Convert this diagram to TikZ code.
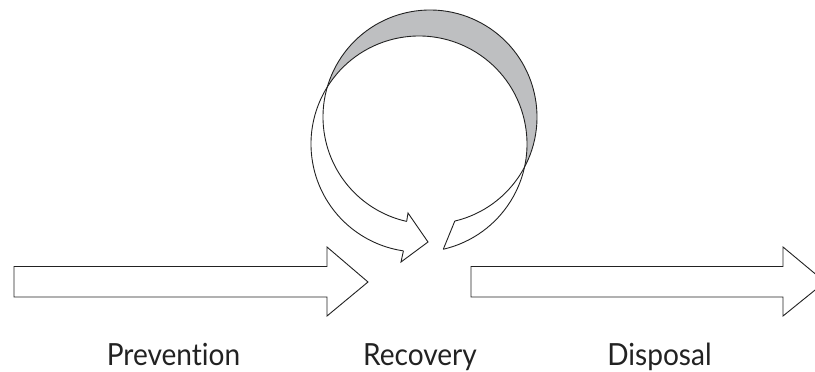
\documentclass[tikz,border=0pt]{standalone}
\usepackage{fontspec}
\setmainfont{Lato}[Ligatures=NoCommon]
\definecolor{crescent}{HTML}{BEBFC1}
\definecolor{ink}{HTML}{222222}
\tikzset{
  outline/.style={draw=ink, line width=0.9pt, line join=miter},
  label/.style={font=\fontsize{30.5}{33}\selectfont, text=ink, anchor=base, inner sep=0pt},
}
\newcommand{\narrow}[1]{\scalebox{0.92}[1]{#1}}
\begin{document}
\begin{tikzpicture}[x=1pt,y=1pt]
\useasboundingbox (0,0) rectangle (815,-372);
\clip (0,0) rectangle (815,-372);
% circle centres
\coordinate (cA) at (419,-144);
\coordinate (cB) at (430,-117);
\path (cA) ++(-77:108) coordinate (Atail);
\path (cA) ++(261.7:108) coordinate (Ahead);
\path (cB) ++(-76.6:107) coordinate (Btail);
\path (cB) ++(257.4:107) coordinate (Bhead);
\coordinate (barbU) at (408,-213);
\coordinate (tipL) at (428,-242);
\coordinate (barbD) at (401,-262);
% fills
\fill[crescent] (cB) circle (107);
\fill[white] (cA) circle (108);
\fill[white] (Bhead) -- (barbU) -- (tipL) -- (barbD) -- (Ahead) -- cycle;
% ribbon outlines
\draw[outline] (Atail) arc[start angle=-77, end angle=261.7, radius=108];
\draw[outline] (Btail) arc[start angle=-76.6, end angle=257.4, radius=107];
\draw[outline] (Bhead) -- (barbU) -- (tipL) -- (barbD) -- (Ahead);
\draw[outline] (Btail) -- (Atail);
% straight arrows
\draw[outline, fill=white] (14,-266.5) -- (327,-266.5) -- (327,-247) -- (368,-282) -- (327,-316) -- (327,-297) -- (14,-297) -- cycle;
\draw[outline, fill=white] (471,-266.5) -- (783,-266.5) -- (783,-247) -- (825,-282) -- (783,-316) -- (783,-297) -- (471,-297) -- cycle;
% labels
\node[label] (prev) at (173.5,-365) {\narrow{Prevention}};
\node[label] (reco) at (420,-365) {\narrow{Recovery}};
\node[label] (disp) at (659.5,-365) {\narrow{Disposal}};
\end{tikzpicture}
\end{document}
